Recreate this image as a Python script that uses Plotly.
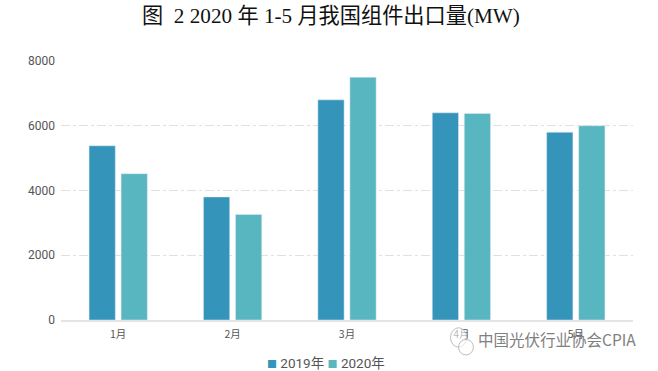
import plotly.graph_objects as go

months = ["1月", "2月", "3月", "4月", "5月"]
y2019 = [5380, 3800, 6800, 6400, 5800]
y2020 = [4520, 3260, 7500, 6380, 6000]
tick_vals = [0, 2000, 4000, 6000, 8000]
series_names = ["2019年", "2020年"]
series_colors = ["#3494BA", "#58B6C0"]
title_text = "图  2 2020 年 1-5 月我国组件出口量(MW)"
watermark = "中国光伏行业协会CPIA"

CJK = "Noto Sans CJK SC"
legend_text = " ".join(
    f'<span style="color:{c};font-size:10px">■</span> {n}' for n, c in zip(series_names, series_colors)
)
fig = go.Figure()
fig.add_bar(name=series_names[0], x=months, y=y2019, marker_color=series_colors[0])
fig.add_bar(name=series_names[1], x=months, y=y2020, marker_color=series_colors[1])
GREY = "#BDBDBD"
icon = [dict(type="circle", xref="paper", yref="paper", x0=a, x1=b, y0=c, y1=d,
             line=dict(color=GREY, width=1), fillcolor="rgba(255,255,255,0.6)")
        for a, b, c, d in [(0.681, 0.709, -0.105, -0.03), (0.695, 0.721, -0.135, -0.075)]]
fig.update_layout(
    width=658, height=371,
    margin=dict(l=61, r=25, t=61, b=50.5, autoexpand=False),
    paper_bgcolor="white", plot_bgcolor="white",
    bargap=0.44, bargroupgap=0.18, showlegend=False,
    title=dict(text=title_text, x=0.472, xanchor="center", xref="paper", y=0.957, yanchor="middle",
               font=dict(family="'Liberation Serif', " + CJK, size=21.2, color="#111111")),
    xaxis=dict(showline=True, linecolor="#E4E4E4", linewidth=1.5, ticks="", ticklabelstandoff=4,
               tickfont=dict(family=CJK, size=10.5, color="#555555")),
    yaxis=dict(range=[0, 8000], tickvals=tick_vals, showline=False, zeroline=False,
               gridcolor="#E0E0E0", griddash="dashdot", gridwidth=1, ticks="", ticklabelstandoff=5,
               tickfont=dict(family="Roboto, " + CJK, size=12, color="#555555")),
    shapes=icon,
    annotations=[
        dict(text=watermark, xref="paper", yref="paper", x=1.009, y=-0.075, xanchor="right", yanchor="middle",
             showarrow=False, font=dict(family=CJK, size=15.5, color="#808080")),
        dict(text=legend_text, xref="paper", yref="paper", x=0.4625, y=-0.167, xanchor="center", yanchor="middle",
             showarrow=False, font=dict(family="Roboto, " + CJK, size=13.5, color="#555555")),
    ],
)
fig.write_html("out.html", config=dict(displayModeBar=False), post_script="document.body.style.margin='0';")
